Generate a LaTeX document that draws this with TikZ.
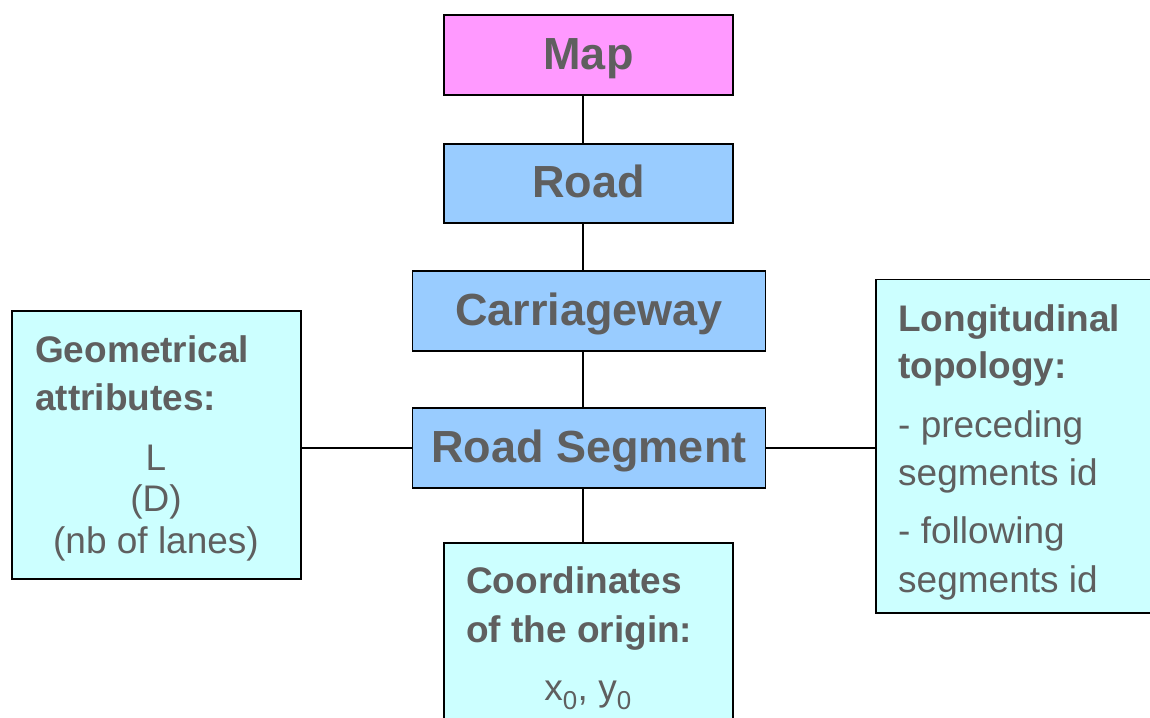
\documentclass[tikz,border=0pt]{standalone}
\usepackage{fontspec}
\setmainfont{Liberation Sans}
\definecolor{mappink}{HTML}{FF99FF}
\definecolor{roadblue}{HTML}{99CCFF}
\definecolor{attrcyan}{HTML}{CCFFFF}
\definecolor{textgrey}{HTML}{5F5F5F}
\tikzset{
  levelbox/.style={draw=black, line width=1.5pt, rectangle, inner sep=0pt,
    text=textgrey, font=\fontsize{45}{50}\selectfont\bfseries,
    text height=28pt, text depth=0pt},
  attrbox/.style={draw=black, line width=1.5pt, rectangle, inner sep=0pt, fill=attrcyan},
  headline/.style={text=textgrey, inner sep=0pt, font=\fontsize{37}{44}\selectfont\bfseries},
  plainline/.style={text=textgrey, inner sep=0pt, font=\fontsize{37}{44}\selectfont},
  link/.style={draw=black, line width=1.5pt}
}
\begin{document}
\begin{tikzpicture}[x=1pt, y=-1pt]
\useasboundingbox (0,0) rectangle (1150,717);
\clip (0,0) rectangle (1150,717);
\fill[white] (0,0) rectangle (1150,717);

% hierarchy boxes
\node[levelbox, fill=mappink, minimum width=289pt, minimum height=80pt] (map) at (588.5,55) {Map};
\node[levelbox, fill=roadblue, minimum width=289pt, minimum height=79pt] (road) at (588.5,183.5) {Road};
\node[levelbox, fill=roadblue, minimum width=353pt, minimum height=80pt] (carr) at (589,311) {Carriageway};
\node[levelbox, fill=roadblue, minimum width=353pt, minimum height=80pt] (seg) at (589,448) {Road Segment};

% attribute boxes
\node[attrbox, minimum width=289pt, minimum height=268pt] (geo) at (156.5,445) {};
\node[attrbox, minimum width=279pt, minimum height=333.5pt] (topo) at (1015.5,446.25) {};
\node[attrbox, minimum width=289pt, minimum height=217pt] (coord) at (588.5,651.5) {};

% connectors
\coordinate (spine) at (583,0);
\draw[link] (map.south -| spine) -- (road.north -| spine);
\draw[link] (road.south -| spine) -- (carr.north -| spine);
\draw[link] (carr.south -| spine) -- (seg.north -| spine);
\draw[link] (seg.south -| spine) -- (coord.north -| spine);
\draw[link] (seg.west) -- (seg.west -| geo.east);
\draw[link] (seg.east) -- (seg.east -| topo.west);

% geometrical attributes
\node[headline, anchor=base west] (geo1) at (35,362) {Geometrical};
\node[headline, anchor=base west] (geo2) at (35,410) {attributes:};
\node[plainline, anchor=base] (geo3) at (156,470) {L};
\node[plainline, anchor=base] (geo4) at (156,511) {(D)};
\node[plainline, anchor=base] (geo5) at (156,553) {(nb of lanes)};

% longitudinal topology
\node[headline, anchor=base west] (topo1) at (898,331) {Longitudinal};
\node[headline, anchor=base west] (topo2) at (898,378) {topology:};
\node[plainline, anchor=base west] (topo3) at (898,437) {- preceding};
\node[plainline, anchor=base west] (topo4) at (898,485) {segments id};
\node[plainline, anchor=base west] (topo5) at (898,543) {- following};
\node[plainline, anchor=base west] (topo6) at (898,592) {segments id};

% coordinates of the origin
\node[headline, anchor=base west] (coord1) at (466,593) {Coordinates};
\node[headline, anchor=base west] (coord2) at (466,642) {of the origin:};
\node[plainline, anchor=base] (coord3) at (588,700) {x\textsubscript{0}, y\textsubscript{0}};
\end{tikzpicture}
\end{document}
